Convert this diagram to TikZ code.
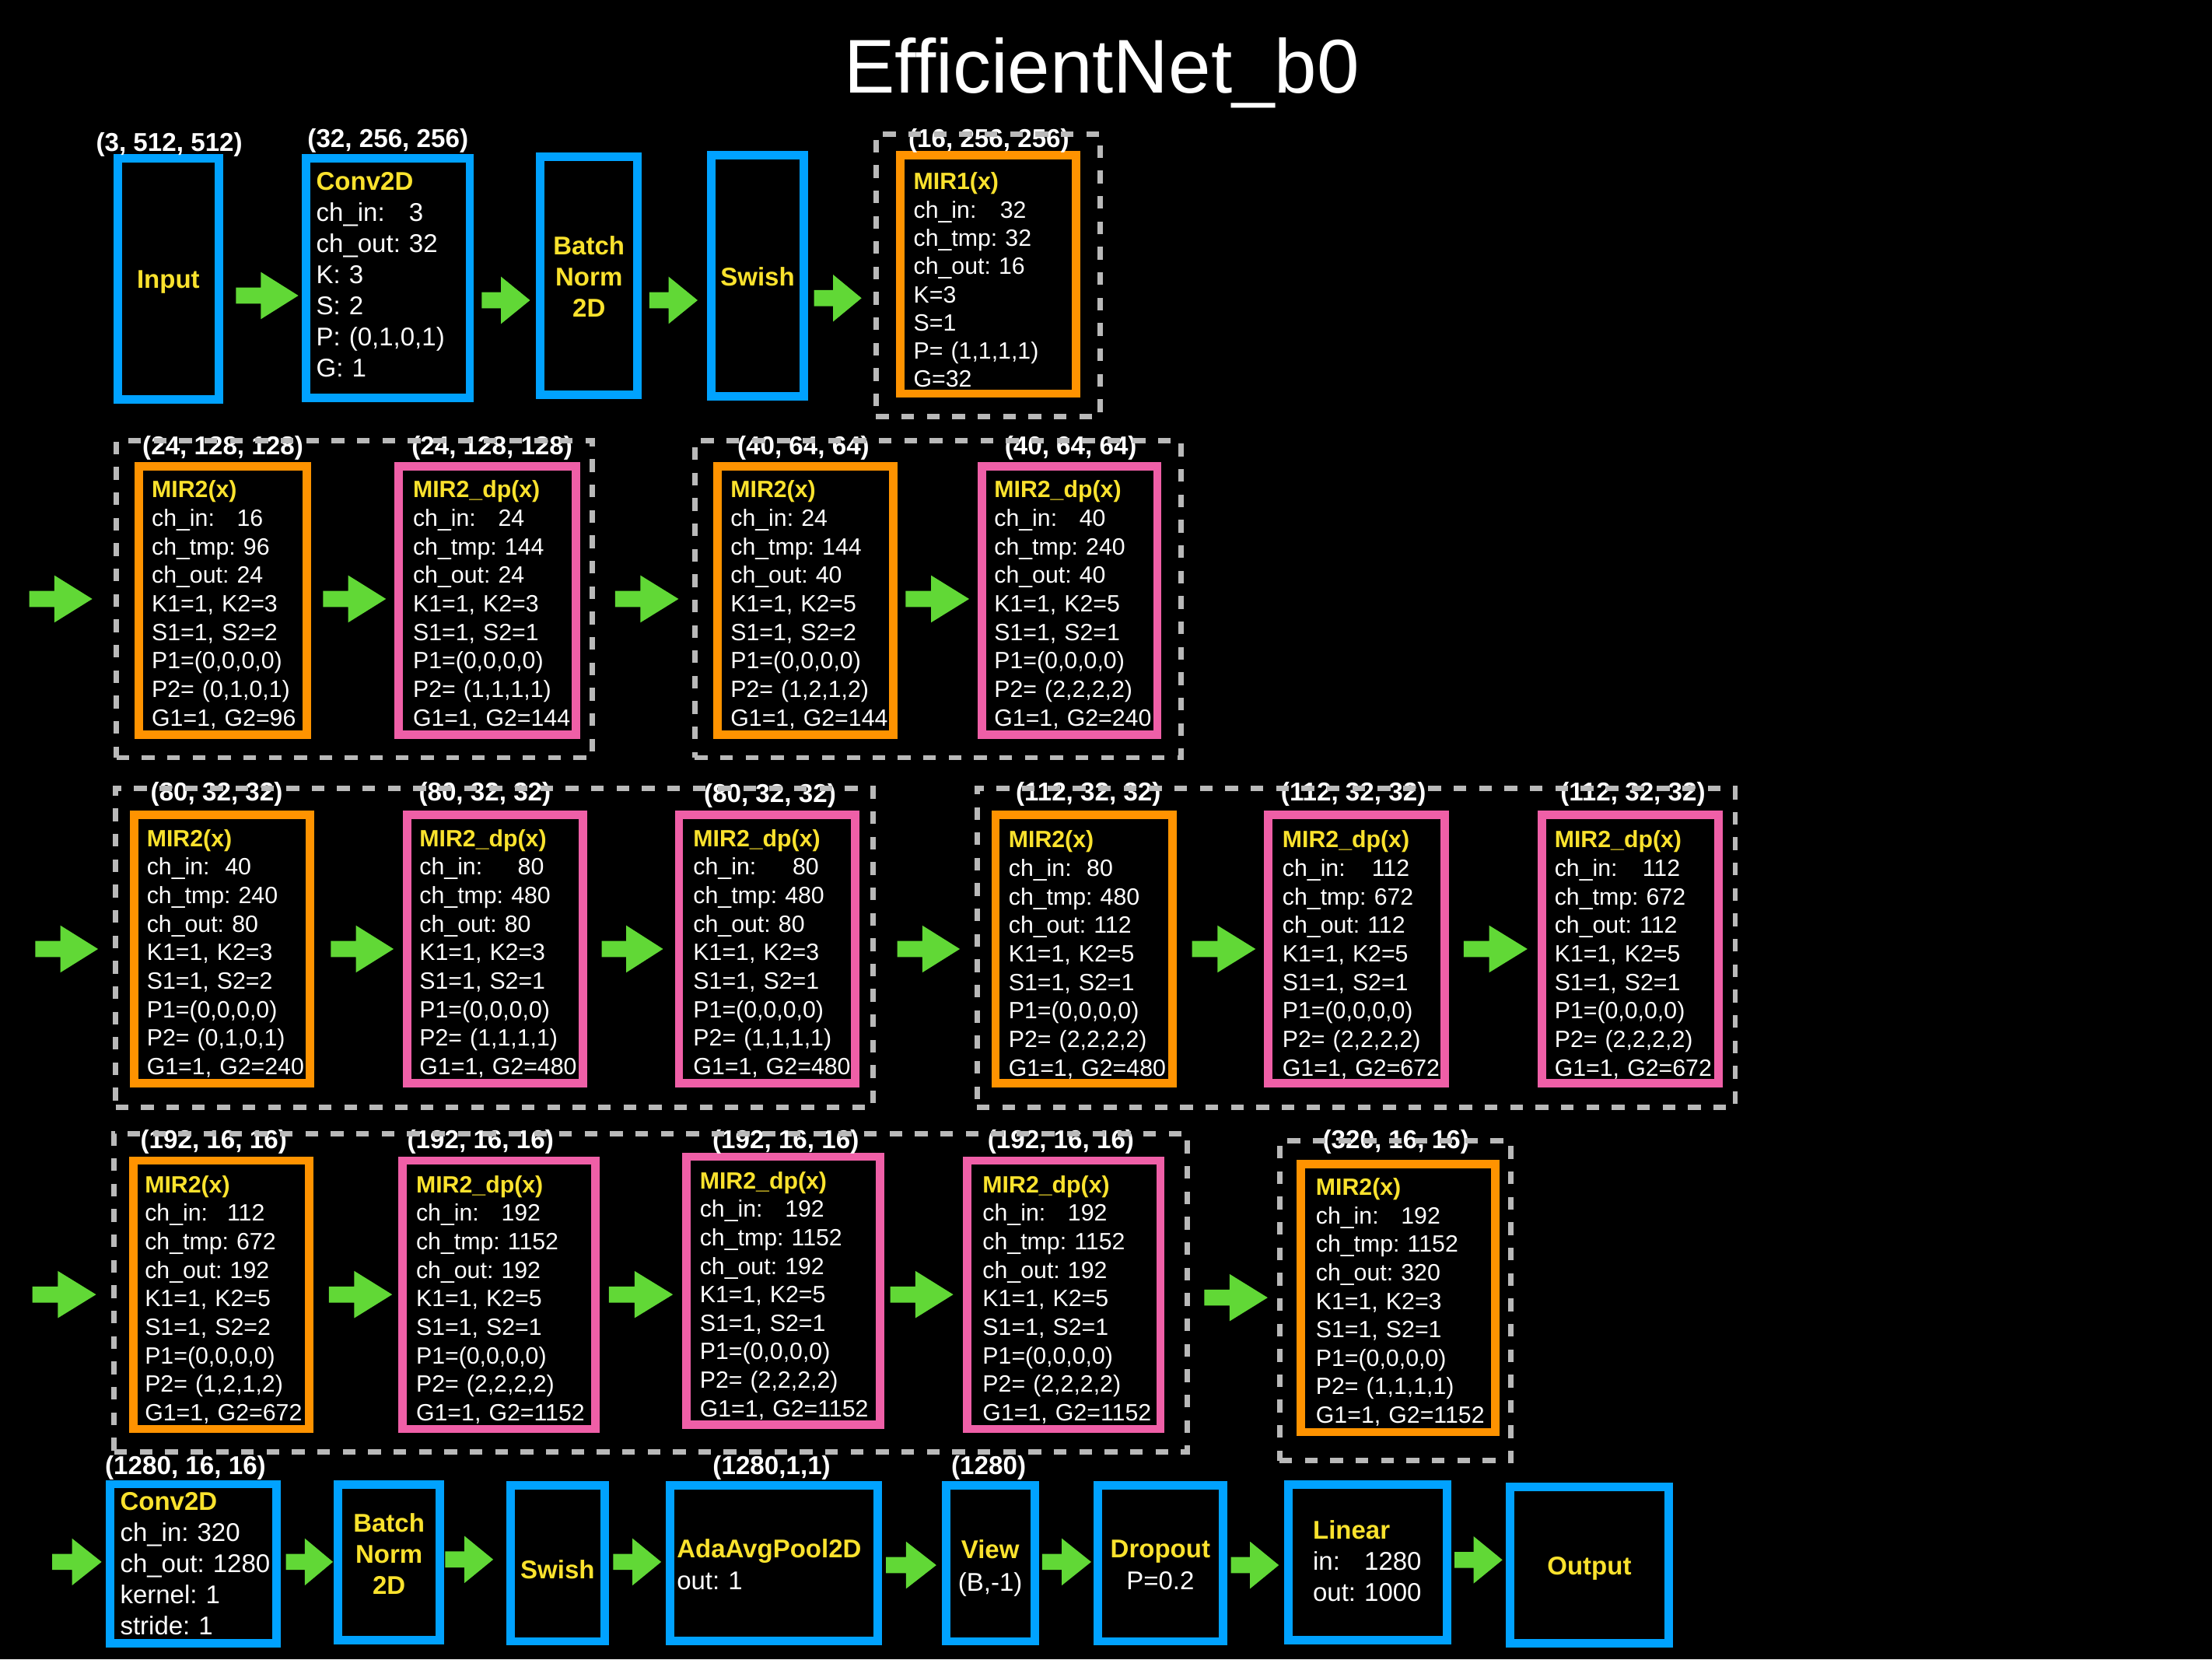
\documentclass[tikz,border=0pt]{standalone}
\usepackage{fontspec}
\setmainfont{Liberation Sans}
\definecolor{kblue}{RGB}{0,162,255}
\definecolor{korange}{RGB}{255,147,0}
\definecolor{kpink}{RGB}{239,95,167}
\definecolor{kgreen}{RGB}{97,216,54}
\definecolor{kyel}{RGB}{250,226,45}
\definecolor{kgray}{RGB}{185,185,185}
\newcommand\chin[2][0pt]{\setbox0\hbox{ch\_out:\ }\makebox[\wd0][l]{ch\_in:}\hspace*{#1}#2}
\newcommand\inlbl{\setbox0\hbox{out:\ }\makebox[\wd0][l]{in:}}
\newcommand\hd[1]{\textcolor{kyel}{\bfseries #1}}
\newcommand\mirtext[8]{\hd{#1}\\#2\\ch\_tmp: #3\\ch\_out: #4\\K1=1, K2=#5\\S1=1, S2=#6\\P1=(0,0,0,0)\\P2= (#7)\\G1=1, G2=#8}
\newcommand\garrow[3]{\pgfmathsetmacro\gh{#2-0.6*(#2-#1)}\fill[kgreen] (#1,#3-5.7) -- (\gh,#3-5.7) -- (\gh,#3-16.7) -- (#2,#3) -- (\gh,#3+16.7) -- (\gh,#3+5.7) -- (#1,#3+5.7) -- cycle;}
\tikzset{
  bbox/.style={draw=kblue, line width=6pt, inner sep=0pt, rectangle},
  obox/.style={draw=korange, line width=6pt, inner sep=0pt, rectangle},
  pbox/.style={draw=kpink, line width=6pt, inner sep=0pt, rectangle},
  dbox/.style={draw=kgray, line width=3.8pt, dash pattern=on 9pt off 9pt, inner sep=0pt, rectangle},
  txt/.style={text=white, inner sep=0pt, align=left, text width=140pt, font=\fontsize{16.7}{20.2}\selectfont\frenchspacing, anchor=base west},
  btxt/.style={txt, font=\fontsize{18.2}{22}\selectfont\frenchspacing},
  ctxt/.style={text=white, inner sep=0pt, align=center, font=\fontsize{18.2}{22}\selectfont\frenchspacing, anchor=base},
  dimlbl/.style={text=white, inner sep=0pt, anchor=base, font=\bfseries\fontsize{18.3}{22}\selectfont},
}
\begin{document}
\frenchspacing
\begin{tikzpicture}[x=1pt,y=-1pt]
\useasboundingbox (0,0) rectangle (1568,1176);
\fill[black] (0,0) rectangle (1568,1176);
\node[text=white, font=\fontsize{54}{60}\selectfont, anchor=base, inner sep=0pt] (title) at (781,66) {EfficientNet\_b0};

% ---------------- Row 1
\node[bbox, minimum width=71.4, minimum height=171] (inp) at (119.3,197.5) {};
\node[ctxt, text width=70] (tinp) at (119.3,204) {\hd{Input}};
\node[bbox, minimum width=116, minimum height=170] (conv1) at (275,197) {};
\node[btxt, text width=110] (tconv1) at (224,135) {\hd{Conv2D}\\\chin{3}\\ch\_out: 32\\K: 3\\S: 2\\P: (0,1,0,1)\\G: 1};
\node[bbox, minimum width=69, minimum height=169] (bn1) at (417.5,195.5) {};
\node[ctxt, text width=68] (tbn1) at (417.5,180.4) {\hd{Batch}\\\hd{Norm}\\\hd{2D}};
\node[bbox, minimum width=66, minimum height=171] (sw1) at (537,195.5) {};
\node[ctxt, text width=66] (tsw1) at (537,202.5) {\hd{Swish}};
\node[obox, minimum width=125, minimum height=169] (mir1) at (700.5,194.5) {};
\node[txt, text width=115, font=\fontsize{16.7}{20}\selectfont\frenchspacing] (tmir1) at (647.4,134.5) {\hd{MIR1(x)}\\\chin[1pt]{32}\\ch\_tmp: 32\\ch\_out: 16\\K=3\\S=1\\P= (1,1,1,1)\\G=32};
\node[dimlbl] (l11) at (120,107.5) {(3, 512, 512)};
\node[dimlbl] (l12) at (275,104.7) {(32, 256, 256)};
\node[dimlbl] (l13) at (701,104.7) {(16, 256, 256)};
\garrow{167.2}{211.5}{209.5}
\garrow{341.5}{375.7}{212.8}
\garrow{460.3}{494.5}{212.8}
\garrow{577}{610.7}{211.3}
\node[dbox, minimum width=159, minimum height=200] (g1) at (700.5,195) {};

% ---------------- Row 2
\node[obox, minimum width=119, minimum height=190] (r2a) at (158,425.65) {};
\node[txt] (t2a) at (107.4,352.8) {\mirtext{MIR2(x)}{\chin{16}}{96}{24}{3}{2}{0,1,0,1}{96}};
\node[pbox, minimum width=125.8, minimum height=190] (r2b) at (345.5,425.65) {};
\node[txt] (t2b) at (292.6,352.8) {\mirtext{MIR2\_dp(x)}{\chin{24}}{144}{24}{3}{1}{1,1,1,1}{144}};
\node[obox, minimum width=124.4, minimum height=190] (r2c) at (570.8,425.65) {};
\node[txt] (t2c) at (517.7,352.8) {\mirtext{MIR2(x)}{ch\_in: 24}{144}{40}{5}{2}{1,2,1,2}{144}};
\node[pbox, minimum width=124.4, minimum height=190] (r2d) at (758.2,425.65) {};
\node[txt] (t2d) at (704.6,352.8) {\mirtext{MIR2\_dp(x)}{\chin{40}}{240}{40}{5}{1}{2,2,2,2}{240}};
\node[dimlbl] (l21) at (158,322.5) {(24, 128, 128)};
\node[dimlbl] (l22) at (348.8,322.5) {(24, 128, 128)};
\node[dimlbl] (l23) at (569.5,322.5) {(40, 64, 64)};
\node[dimlbl] (l24) at (759,322.5) {(40, 64, 64)};
\garrow{20.7}{65.4}{424.5}
\garrow{229}{273.6}{424.5}
\garrow{436}{481}{424.5}
\garrow{642}{687}{424.5}
\node[dbox, minimum width=337.5, minimum height=224.5] (g2a) at (251.25,424.75) {};
\node[dbox, minimum width=344.5, minimum height=224.5] (g2b) at (664.75,424.75) {};

% ---------------- Row 3
\node[obox, minimum width=124.5, minimum height=190.5] (r3a) at (157.55,672.55) {};
\node[txt] (t3a) at (103.9,600) {\mirtext{MIR2(x)}{\chin[-4.9pt]{40}}{240}{80}{3}{2}{0,1,0,1}{240}};
\node[pbox, minimum width=125, minimum height=190.5] (r3b) at (350.9,672.55) {};
\node[txt] (t3b) at (297.2,600) {\mirtext{MIR2\_dp(x)}{\chin[9.3pt]{80}}{480}{80}{3}{1}{1,1,1,1}{480}};
\node[pbox, minimum width=125, minimum height=190.5] (r3c) at (543.8,672.55) {};
\node[txt] (t3c) at (491.3,600) {\mirtext{MIR2\_dp(x)}{\chin[10pt]{80}}{480}{80}{3}{1}{1,1,1,1}{480}};
\node[obox, minimum width=125.4, minimum height=190.5] (r3d) at (768.4,672.55) {};
\node[txt] (t3d) at (714.8,600.9) {\mirtext{MIR2(x)}{\chin[-5pt]{80}}{480}{112}{5}{1}{2,2,2,2}{480}};
\node[pbox, minimum width=125.1, minimum height=190.5] (r3e) at (961.45,672.55) {};
\node[txt] (t3e) at (908.9,600.9) {\mirtext{MIR2\_dp(x)}{\chin[3pt]{112}}{672}{112}{5}{1}{2,2,2,2}{672}};
\node[pbox, minimum width=125, minimum height=190.5] (r3f) at (1155.5,672.55) {};
\node[txt] (t3f) at (1101.8,600.9) {\mirtext{MIR2\_dp(x)}{\chin[2pt]{112}}{672}{112}{5}{1}{2,2,2,2}{672}};
\node[dimlbl] (l31) at (153.6,567.8) {(80, 32, 32)};
\node[dimlbl] (l32) at (343.7,567.8) {(80, 32, 32)};
\node[dimlbl] (l33) at (545.8,568.5) {(80, 32, 32)};
\node[dimlbl] (l34) at (771.5,567.8) {(112, 32, 32)};
\node[dimlbl] (l35) at (959.4,567.8) {(112, 32, 32)};
\node[dimlbl] (l36) at (1157.5,567.8) {(112, 32, 32)};
\garrow{25}{69.5}{672.6}
\garrow{234.5}{279}{672.6}
\garrow{426.5}{470}{672.6}
\garrow{636}{680.4}{672.6}
\garrow{845}{890}{672.6}
\garrow{1037.5}{1082.7}{672.6}
\node[dbox, minimum width=537, minimum height=226] (g3a) at (350.5,672) {};
\node[dbox, minimum width=537.5, minimum height=226] (g3b) at (961.25,672) {};

% ---------------- Row 4
\node[obox, minimum width=124.8, minimum height=190.2] (r4a) at (156.9,917.7) {};
\node[txt] (t4a) at (102.5,845.3) {\mirtext{MIR2(x)}{\chin[-2pt]{112}}{672}{192}{5}{2}{1,2,1,2}{672}};
\node[pbox, minimum width=136.7, minimum height=190.2] (r4b) at (353.65,917.7) {};
\node[txt] (t4b) at (294.8,845.3) {\mirtext{MIR2\_dp(x)}{\chin{192}}{1152}{192}{5}{1}{2,2,2,2}{1152}};
\node[pbox, minimum width=137.3, minimum height=190] (r4c) at (555.05,914.8) {};
\node[txt] (t4c) at (495.9,842.5) {\mirtext{MIR2\_dp(x)}{\chin{192}}{1152}{192}{5}{1}{2,2,2,2}{1152}};
\node[pbox, minimum width=136.8, minimum height=190.2] (r4d) at (754.2,917.7) {};
\node[txt] (t4d) at (696.4,845.3) {\mirtext{MIR2\_dp(x)}{\chin{192}}{1152}{192}{5}{1}{2,2,2,2}{1152}};
\node[obox, minimum width=137.8, minimum height=190] (r4e) at (991.1,920) {};
\node[txt] (t4e) at (932.6,847.1) {\mirtext{MIR2(x)}{\chin{192}}{1152}{320}{3}{1}{1,1,1,1}{1152}};
\node[dimlbl] (l41) at (151.5,814) {(192, 16, 16)};
\node[dimlbl] (l42) at (340.6,814) {(192, 16, 16)};
\node[dimlbl] (l43) at (557,814) {(192, 16, 16)};
\node[dimlbl] (l44) at (752,814) {(192, 16, 16)};
\node[dimlbl] (l45) at (989.5,814) {(320, 16, 16)};
\garrow{22.9}{68.1}{917.5}
\garrow{233.2}{278}{917.5}
\garrow{431.6}{477}{917.5}
\garrow{631}{675.7}{917.5}
\garrow{853.6}{898.6}{919.7}
\node[dbox, minimum width=760.5, minimum height=225.5] (g4a) at (461.25,916.25) {};
\node[dbox, minimum width=164, minimum height=226.6] (g4b) at (989,922) {};

% ---------------- Row 5
\node[bbox, minimum width=117.8, minimum height=112.9] (c5) at (136.9,1108.35) {};
\node[btxt, text width=112] (tc5) at (85,1070.5) {\hd{Conv2D}\\ch\_in: 320\\ch\_out: 1280\\kernel: 1\\stride: 1};
\node[bbox, minimum width=72.1, minimum height=110.6] (bn5) at (275.75,1107.3) {};
\node[ctxt, text width=72] (tbn5) at (275.75,1086) {\hd{Batch}\\\hd{Norm}\\\hd{2D}};
\node[bbox, minimum width=66.7, minimum height=110.5] (sw5) at (395.25,1108.05) {};
\node[ctxt, text width=66] (tsw5) at (395.25,1119) {\hd{Swish}};
\node[bbox, minimum width=147.2, minimum height=110.2] (pool) at (548.4,1107.9) {};
\node[btxt, text width=140, font=\fontsize{18.2}{23}\selectfont\frenchspacing] (tpool) at (479.6,1103.8) {\hd{AdaAvgPool2D}\\out: 1};
\node[bbox, minimum width=62.9, minimum height=110.5] (view) at (701.95,1108.05) {};
\node[ctxt, text width=62, font=\fontsize{18.2}{23}\selectfont\frenchspacing] (tview) at (701.95,1104.5) {\hd{View}\\(B,-1)};
\node[bbox, minimum width=89, minimum height=110.5] (drop) at (822.5,1108.05) {};
\node[ctxt, text width=88, font=\fontsize{18.2}{23}\selectfont\frenchspacing] (tdrop) at (822.5,1103.8) {\hd{Dropout}\\P=0.2};
\node[bbox, minimum width=112.3, minimum height=110.6] (lin) at (969.55,1107.3) {};
\node[btxt, text width=100] (tlin) at (930.5,1090.7) {\hd{Linear}\\\inlbl 1280\\out: 1000};
\node[bbox, minimum width=112.4, minimum height=110.8] (outp) at (1126.6,1109.4) {};
\node[ctxt, text width=110] (toutp) at (1126.6,1116) {\hd{Output}};
\node[dimlbl] (l51) at (131.5,1045) {(1280, 16, 16)};
\node[dimlbl] (l52) at (547,1045) {(1280,1,1)};
\node[dimlbl] (l53) at (700.8,1045) {(1280)};
\garrow{37}{72}{1107}
\garrow{202.7}{236}{1107}
\garrow{315.6}{349.6}{1105.3}
\garrow{434.7}{468.7}{1107}
\garrow{628}{663.7}{1109.3}
\garrow{738.7}{773.5}{1107}
\garrow{872.5}{906.5}{1109.3}
\garrow{1031}{1065}{1105.6}
\end{tikzpicture}
\end{document}
